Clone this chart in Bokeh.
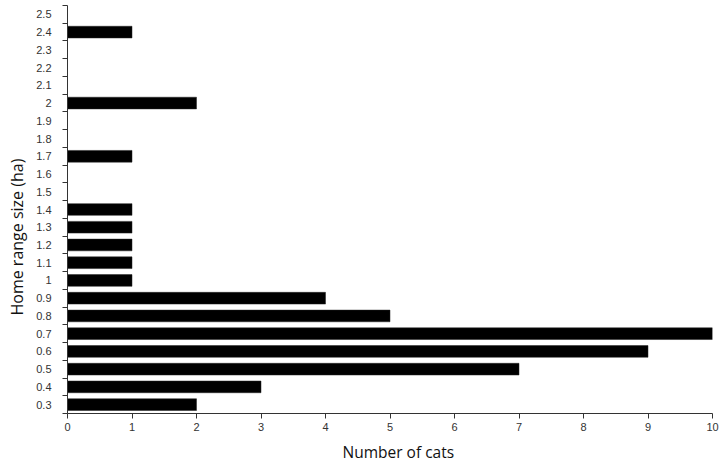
from bokeh.plotting import figure
from bokeh.models import FixedTicker, Range1d, ColumnDataSource, Title
from bokeh.embed import file_html
from bokeh.resources import INLINE

categories = ["0.3", "0.4", "0.5", "0.6", "0.7", "0.8", "0.9", "1", "1.1", "1.2",
              "1.3", "1.4", "1.5", "1.6", "1.7", "1.8", "1.9", "2", "2.1", "2.2",
              "2.3", "2.4", "2.5"]
counts = [2, 3, 7, 9, 10, 5, 4, 1, 1, 1, 1, 1, 0, 0, 1, 0, 0, 2, 0, 0, 0, 1, 0]
x_ticks = [0, 1, 2, 3, 4, 5, 6, 7, 8, 9, 10]
x_title = "Number of cats"
y_title = "Home range size (ha)"

pos = list(range(len(categories)))
src = ColumnDataSource(dict(y=pos, right=counts, cat=categories))

p = figure(width=723, height=468, output_backend="svg", toolbar_location=None,
           x_range=Range1d(0, 10), y_range=Range1d(-0.5, len(categories) - 0.5),
           min_border_left=67, min_border_right=11, min_border_top=5, min_border_bottom=55)
p.outline_line_color = None
p.grid.grid_line_color = None
p.background_fill_color = "white"
p.border_fill_color = "white"

p.hbar(y="y", left=0, right="right", height=0.66, source=src,
       fill_color="black", line_color="#222222", line_width=0.5)

# x axis
xa = p.xaxis[0]
xa.ticker = FixedTicker(ticks=x_ticks)
xa.major_label_text_font = "Liberation Sans"
xa.major_label_text_font_size = "11px"
xa.major_label_text_color = "#333333"
xa.major_label_standoff = 4
xa.major_tick_out = 5
xa.major_tick_in = 0
xa.minor_tick_out = 0
xa.minor_tick_in = 0
xa.axis_line_color = "#333333"
xa.major_tick_line_color = "#333333"

# y axis
ya = p.yaxis[0]
ya.ticker = FixedTicker(ticks=pos, minor_ticks=[i - 0.5 for i in range(len(categories) + 1)])
ya.major_label_overrides = {i: c for i, c in enumerate(categories)}
ya.major_label_text_font = "Liberation Sans"
ya.major_label_text_font_size = "11px"
ya.major_label_text_color = "#333333"
ya.major_label_standoff = 11
ya.major_tick_out = 0
ya.major_tick_in = 0
ya.minor_tick_out = 5
ya.minor_tick_in = 0
ya.axis_line_color = "#333333"
ya.minor_tick_line_color = "#333333"

# axis titles
p.add_layout(Title(text=x_title, align="left", offset=275, standoff=11,
                   text_font="Open Sans", text_font_size="15.5px",
                   text_font_style="normal", text_color="#111111"), "below")
p.add_layout(Title(text=y_title, align="left", offset=98, standoff=8,
                   vertical_align="top",
                   text_font="Open Sans", text_font_size="16px",
                   text_font_style="normal", text_color="#111111"), "left")

open("out.html", "w").write(file_html(p, INLINE))
